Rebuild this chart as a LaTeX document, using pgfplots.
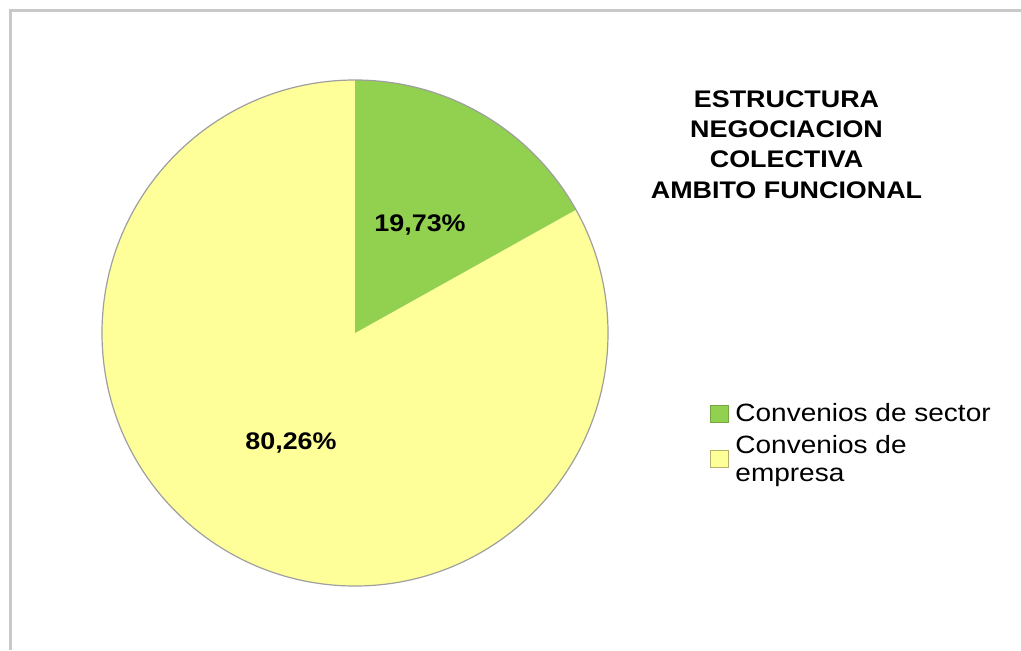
\documentclass[border=0pt]{standalone}
\usepackage{pgfplots}
\usepackage{pgfplotstable}
\usepackage{fontspec}
\setmainfont{Liberation Sans}
\pgfplotsset{compat=1.18}

\definecolor{sector}{HTML}{92D050}
\definecolor{empresa}{HTML}{FFFF99}
\definecolor{frame}{HTML}{C8C8C8}

% share of the circle each slice takes in the picture (percent)
\pgfplotstableread{
share
16.9
83.1
}\pietable

\begin{document}
\begin{tikzpicture}
\path[use as bounding box] (0,0) rectangle (510.5pt,325pt);
\draw[frame, line width=1.5pt] (5pt,0) -- (5pt,320pt) -- (510.5pt,320pt);

\pgfplotstablegetelem{0}{share}\of\pietable
\pgfmathsetmacro\aend{90-3.6*\pgfplotsretval}
\pgfplotstablegetelem{1}{share}\of\pietable
\pgfmathsetmacro\bend{\aend-3.6*\pgfplotsretval}

\begin{axis}[
    at={(177.5pt,158.5pt)}, anchor=origin,
    x=126.5pt, y=126.5pt,
    xmin=-1.05, xmax=1.05, ymin=-1.05, ymax=1.05,
    hide axis,
]
\fill[empresa] (axis cs:0,0) -- ({cos(\aend)},{sin(\aend)}) arc[start angle=\aend, end angle=\bend, radius=126.5pt] -- cycle;
\fill[sector] (axis cs:0,0) -- (axis cs:0,1) arc[start angle=90, end angle=\aend, radius=126.5pt] -- cycle;
\draw[gray!75, line width=0.6pt] (axis cs:0,0) circle[radius=126.5pt];
\node[font=\bfseries\fontsize{12}{14}\selectfont, xscale=1.12] at (axis cs:0.257,0.427) {19,73\%};
\node[font=\bfseries\fontsize{12}{14}\selectfont, xscale=1.12] at (axis cs:-0.253,-0.435) {80,26\%};
\end{axis}

% title
\node[anchor=north, inner sep=0pt, align=center, xscale=1.12,
      font=\bfseries\fontsize{12}{15.2}\selectfont] at (393.25pt,280pt)
      {ESTRUCTURA\\NEGOCIACION\\COLECTIVA\\AMBITO FUNCIONAL};

% legend
\fill[sector, draw=sector!80!black, line width=0.3pt] (355.3pt,114pt) rectangle (364pt,122.5pt);
\fill[empresa, draw=empresa!70!black, line width=0.3pt] (355.3pt,91.5pt) rectangle (364pt,100pt);
\node[anchor=base west, inner sep=0pt, xscale=1.12, font=\fontsize{12.5}{14}\selectfont]
      at (367.5pt,114.1pt) {Convenios de sector};
\node[anchor=base west, inner sep=0pt, xscale=1.12, font=\fontsize{12.5}{14}\selectfont]
      at (367.5pt,98.5pt) {Convenios de};
\node[anchor=base west, inner sep=0pt, xscale=1.12, font=\fontsize{12.5}{14}\selectfont]
      at (367.5pt,84.5pt) {empresa};
\end{tikzpicture}
\end{document}
